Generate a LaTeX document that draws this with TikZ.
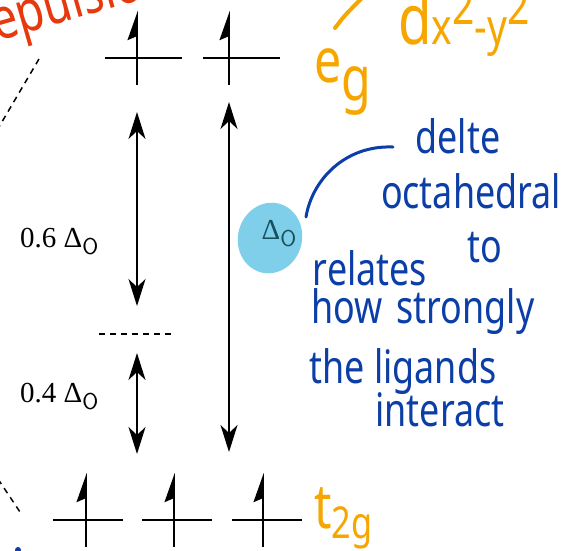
\documentclass[tikz,border=0pt]{standalone}
\usepackage{fontspec}
\setmainfont{Liberation Serif}
\newfontfamily\handfont[FakeStretch=0.78]{Noto Sans}
\usetikzlibrary{arrows.meta, positioning, calc, shapes.geometric}
\definecolor{inkRed}{HTML}{E8380D}
\definecolor{inkOrange}{HTML}{F7A600}
\definecolor{inkBlue}{HTML}{0B3EA6}
\definecolor{blobBlue}{HTML}{80CFEA}
\definecolor{blobText}{HTML}{17505E}
\newcommand{\deltaO}{Δ\raisebox{-7pt}{\fontsize{23}{23}\selectfont\textsf{O}}}

\begin{document}
\begin{tikzpicture}[
    x=1pt, y=-1pt,
    level/.style={line width=2.6pt},
    spin/.style={line width=1.5pt, -{Stealth[harpoon, length=27pt, width=19pt, inset=4pt]}},
    split/.style={line width=1.5pt,
                  {Stealth[length=27pt, width=17pt, inset=8pt]}-{Stealth[length=27pt, width=17pt, inset=8pt]}},
    guide/.style={line width=1.5pt, dash pattern=on 6pt off 5pt},
    gaplabel/.style={anchor=base west, inner sep=0pt, font=\fontsize{29}{31}\selectfont},
    ink/.style={inner sep=0pt, font=\handfont\fontsize{46}{48}\selectfont},
    note/.style={ink, text=inkBlue},
    tag/.style={inner sep=0pt, text=inkOrange, font=\handfont\fontsize{62}{64}\selectfont},
    blob/.style={ellipse, fill=blobBlue, minimum width=64pt, minimum height=71pt, inner sep=0pt}
  ]
    \clip (0,0) rectangle (571,550);

    % e_g and t_2g levels
    \foreach \xa/\xb in {105/182, 203/280}
      \draw[level] (\xa,58) -- (\xb,58);
    \foreach \xa/\xb in {53/123, 142/212, 232/302}
      \draw[level] (\xa,520) -- (\xb,520);
    \foreach \x in {137, 229}
      \draw[spin] (\x,85) -- (\x,11);
    \foreach \x in {86, 174, 263}
      \draw[spin] (\x,547) -- (\x,473);

    % barycentre and splitting
    \coordinate (baryL) at (99,334);
    \coordinate (baryR) at (175,334);
    \draw[guide] (baryL) -- (baryR);
    \coordinate (sixTop) at (137,112);
    \coordinate (sixBot) at (137,306);
    \coordinate (fourTop) at (137,353);
    \coordinate (fourBot) at (137,454);
    \coordinate (fullTop) at (229,102);
    \coordinate (fullBot) at (229,452);
    \draw[split] (sixTop) -- (sixBot);
    \draw[split] (fourTop) -- (fourBot);
    \draw[split] (fullTop) -- (fullBot);
    \node[gaplabel] (six) at (20,247) {0.6 \deltaO};
    \node[gaplabel] (four) at (20,402) {0.4 \deltaO};

    % lines off to the left
    \coordinate (upA) at (39,59);
    \coordinate (upB) at (-4,132);
    \coordinate (dnA) at (-2,479);
    \coordinate (dnB) at (20,512);
    \draw[guide] (upA) -- (upB);
    \draw[guide] (dnA) -- (dnB);

    % highlighted Delta_O
    \node[blob, rotate=-15] (dO) at (270,238) {};
    \node[gaplabel, anchor=center, text=blobText] (dOlabel) at (279,234) {\deltaO};

    % handwritten notes
    \node[ink, text=inkRed, anchor=base west, rotate=16, font=\handfont\fontsize{58}{60}\selectfont] (repel) at (-20,46) {repulsion};
    \draw[inkOrange, line width=4pt, line cap=round] (335,28) .. controls (345,15) .. (362,-2);
    \node[tag, anchor=base west] (eg) at (314,82) {e\raisebox{-18pt}{g}};
    \node[tag, anchor=base west, font=\handfont\fontsize{70}{72}\selectfont] (dx) at (398,44) {d{\fontsize{50}{52}\selectfont x\raisebox{20pt}{2}-y\raisebox{20pt}{2}}};
    \node[tag, anchor=base west] (t2g) at (314,528) {t\raisebox{-10pt}{\fontsize{44}{46}\selectfont 2g}};

    \node[note] (delte) at (458,136) {delte};
    \node[note] (octa) at (471,191) {octahedral};
    \node[note] (relates) at (370,268) {relates};
    \node[note] (to) at (485,248) {to};
    \node[note, anchor=west] (how) at (311,312) {how\hspace{14pt}strongly};
    \node[note] (lig) at (403,372) {the ligands};
    \node[note] (inter) at (440,410) {interact};
    \coordinate (curlStart) at (393,147);
    \coordinate (curlEnd) at (306,217);
    \draw[inkBlue, line width=3pt, line cap=round] (curlStart) .. controls (345,145) and (312,180) .. (curlEnd);
    \fill[inkBlue] (18,550) circle (3pt);
  \end{tikzpicture}
\end{document}
